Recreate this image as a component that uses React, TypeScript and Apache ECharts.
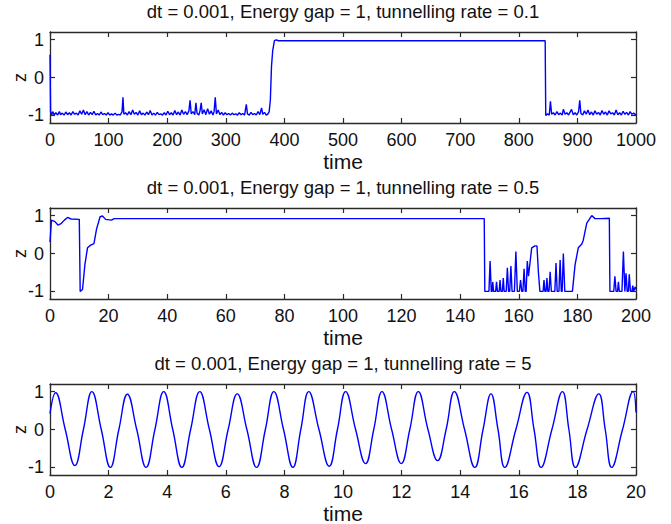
import React, { useEffect, useRef } from "react";
import * as echarts from "echarts";

// ---------- data ----------
const titles = [
  "dt = 0.001, Energy gap = 1, tunnelling rate = 0.1",
  "dt = 0.001, Energy gap = 1, tunnelling rate = 0.5",
  "dt = 0.001, Energy gap = 1, tunnelling rate = 5",
];
const xMax = [1000, 200, 20];
const xStep = [100, 20, 2];
const yTicks = [-1, 0, 1];

// panel 1: tunnelling rate 0.1  [time, z]
const series1: number[][] = [
  [0, 0.6], [1, -0.9], [3, -0.98], [5, -0.9], [7, -0.99], [10, -0.93], [13, -0.99], [16, -0.9], [18, -0.98],
  [21, -0.94], [24, -0.99], [27, -0.91], [30, -0.98], [33, -0.93], [36, -0.99], [39, -0.9], [42, -0.97],
  [45, -0.94], [48, -0.99], [51, -0.88], [54, -0.97], [57, -0.86], [60, -0.98], [63, -0.9], [66, -0.99],
  [69, -0.92], [72, -0.98], [75, -0.89], [78, -0.99], [81, -0.95], [84, -0.99], [87, -0.91], [90, -0.98],
  [93, -0.95], [96, -0.99], [99, -0.93], [102, -0.99], [105, -0.96], [108, -0.99], [111, -0.94], [114, -0.99],
  [117, -0.97], [120, -0.99], [123, -0.9], [124.5, -0.52], [126, -0.97], [129, -0.93], [132, -0.99], [135, -0.9],
  [138, -0.98], [141, -0.86], [144, -0.97], [147, -0.92], [150, -0.99], [153, -0.88], [156, -0.98], [159, -0.94],
  [162, -0.99], [165, -0.91], [168, -0.98], [171, -0.87], [174, -0.99], [177, -0.94], [180, -0.99], [183, -0.92],
  [186, -0.98], [189, -0.96], [192, -0.99], [195, -0.93], [198, -0.99], [201, -0.89], [204, -0.98], [207, -0.93],
  [210, -0.99], [213, -0.87], [216, -0.98], [219, -0.91], [222, -0.99], [225, -0.86], [228, -0.97], [231, -0.9],
  [234, -0.98], [237, -0.88], [239, -0.6], [241, -0.96], [244, -0.9], [247, -0.98], [249, -0.67], [251, -0.95],
  [254, -0.99], [256, -0.88], [258, -0.67], [260, -0.96], [263, -0.85], [266, -0.98], [269, -0.82], [272, -0.97],
  [275, -0.88], [278, -0.99], [280, -0.9], [282, -0.52], [284, -0.96], [287, -0.86], [290, -0.98], [293, -0.92],
  [296, -0.99], [299, -0.93], [302, -0.98], [305, -0.95], [308, -0.99], [311, -0.94], [314, -0.98], [317, -0.96],
  [320, -0.99], [323, -0.93], [326, -0.98], [329, -0.95], [332, -0.99], [335, -0.71], [337, -0.96], [340, -0.99],
  [343, -0.92], [346, -0.98], [349, -0.95], [352, -0.99], [355, -0.9], [358, -0.98], [361, -0.8], [363, -0.97],
  [366, -0.92], [369, -0.99], [372, -0.96], [374, -0.9], [376, -0.6], [378, 0.3], [380, 0.7], [383, 0.97],
  [386, 0.99], [390, 0.97], [845, 0.97], [846, -1.0], [849, -0.96], [852, -0.99], [854, -0.63], [856, -0.97],
  [859, -0.93], [862, -0.99], [865, -0.9], [868, -0.98], [871, -0.94], [874, -0.99], [876, -0.84], [879, -0.97],
  [882, -0.93], [885, -0.99], [888, -0.9], [890, -0.84], [893, -0.98], [896, -0.93], [899, -0.99], [902, -0.9],
  [904, -0.6], [906, -0.95], [909, -0.99], [912, -0.88], [915, -0.97], [918, -0.86], [921, -0.98], [924, -0.91],
  [927, -0.99], [930, -0.88], [933, -0.97], [936, -0.92], [939, -0.99], [942, -0.87], [945, -0.97], [948, -0.91],
  [951, -0.99], [954, -0.88], [957, -0.96], [960, -0.93], [963, -0.99], [966, -0.86], [969, -0.98], [972, -0.93],
  [975, -0.99], [978, -0.89], [981, -0.97], [984, -0.92], [987, -0.99], [990, -0.9], [993, -0.97], [996, -0.94],
  [999, -0.98], [1000, -0.96],
];

// panel 2: tunnelling rate 0.5
const series2: number[][] = [
  [0, 0.3], [0.5, 0.88], [1.7, 0.84], [2.7, 0.75], [3.8, 0.79], [4.9, 0.88], [6.0, 0.95], [7.2, 0.91],
  [10.0, 0.9], [10.3, -1.0], [11.1, -0.95], [11.9, -0.3], [12.8, 0.15], [13.9, 0.22], [15.0, 0.26],
  [15.9, 0.65], [17.1, 0.97], [17.9, 0.99], [19.0, 0.9], [21.0, 0.88], [21.9, 0.92], [148.2, 0.92],
  [148.4, -1.0], [149.8, -1.0], [150.2, -0.2], [150.6, -1.0], [150.9, -1.0], [151.1, -0.75], [151.4, -1.0],
  [152.1, -1.0], [152.4, -0.75], [152.7, -1.0], [153.3, -1.0], [153.6, -0.7], [153.9, -1.0], [154.4, -1.0],
  [154.7, -0.65], [155.0, -1.0], [155.7, -1.0], [156.1, -0.38], [156.5, -1.0], [156.9, -1.0], [157.3, -0.33],
  [157.7, -1.0], [158.5, -1.0], [159.0, 0.05], [159.5, -1.0], [160.2, -1.0], [160.6, -0.7], [161.0, -1.0],
  [161.4, -1.0], [161.8, -0.4], [162.2, -1.0], [162.5, -1.0], [162.9, -0.2], [163.3, -0.6], [164.4, 0.15],
  [165.5, 0.2], [166.2, 0.2], [166.7, -0.5], [167.2, -1.0], [168.3, -1.0], [168.6, -0.7], [168.9, -1.0],
  [169.3, -1.0], [169.6, -0.65], [169.9, -1.0], [170.3, -1.0], [170.7, -0.48], [171.1, -1.0], [172.3, -1.0],
  [172.7, -0.25], [173.1, -1.0], [173.7, -1.0], [174.1, -0.17], [174.5, -1.0], [174.8, -1.0], [175.2, 0.0],
  [175.7, -1.0], [178.3, -1.0], [179.2, -0.3], [180.3, 0.15], [181.5, 0.25], [182.0, 0.35], [183.2, 0.8],
  [184.9, 1.0], [186.0, 0.92], [188.0, 0.92], [190.9, 0.93], [191.1, -1.0], [192.4, -1.0], [192.8, -0.6],
  [193.2, -1.0], [193.7, -1.0], [194.0, -0.75], [194.3, -1.0], [195.2, -1.0], [195.7, 0.05], [196.2, -1.0],
  [196.3, -1.0], [196.6, -0.52], [197.0, -1.0], [197.4, -1.0], [197.7, -0.55], [198.1, -1.0], [198.6, -1.0],
  [198.9, -0.85], [199.2, -1.0], [199.7, -0.88], [200, -0.95],
];

// panel 3: tunnelling rate 5 (peaks, zero crossings, troughs)
const series3: number[][] = [
  [0, 0.42], [0.19, 0.97], [0.52, 0], [0.85, -0.95], [1.14, 0], [1.43, 1.0], [1.75, 0], [2.06, -1.0],
  [2.35, 0], [2.64, 0.93], [2.96, 0], [3.28, -1.0], [3.58, 0], [3.88, 1.0], [4.19, 0], [4.5, -1.0],
  [4.8, 0], [5.11, 1.0], [5.44, 0], [5.77, -0.98], [6.08, 0], [6.39, 0.94], [6.72, 0], [7.05, -1.0],
  [7.35, 0], [7.64, 1.0], [7.97, 0], [8.29, -1.0], [8.56, 0], [8.83, 1.0], [9.18, 0], [9.53, -0.97],
  [9.81, 0], [10.09, 1.0], [10.43, 0], [10.77, -0.9], [11.05, 0], [11.33, 1.0], [11.66, 0], [11.99, -0.9],
  [12.28, 0], [12.57, 1.0], [12.9, 0], [13.23, -0.82], [13.52, 0], [13.8, 1.0], [14.15, 0], [14.5, -1.0],
  [14.78, 0], [15.05, 0.94], [15.29, 0], [15.52, -1.0], [15.9, 0], [16.28, 0.98], [16.52, 0], [16.76, -1.0],
  [17.13, 0], [17.49, 1.0], [17.71, 0], [17.93, -1.0], [18.33, 0], [18.73, 0.94], [18.95, 0], [19.17, -1.0],
  [19.54, 0], [19.9, 1.0], [20, 0.45],
];

const allSeries = [series1, series2, series3];
const smoothFlags = [false, false, true];

// ---------- layout ----------
const FONT = "Liberation Sans, Arial, sans-serif";
const gridTops = [32, 208, 384];
const gridH = 91;
const gridLeft = 50;
const gridW = 586;
const titleFont = 18.5;
const titleCenters = [12, 188, 364];

export default function App() {
  const ref = useRef<HTMLDivElement>(null);
  useEffect(() => {
    if (!ref.current) return;
    const chart = echarts.init(ref.current, undefined, { renderer: "svg" });
    const axisLine = { show: true, onZero: false, lineStyle: { color: "#2a2a2a", width: 1.3 } };
    const tick = (extra: any = {}) => ({
      show: true, inside: true, length: 5, lineStyle: { color: "#2a2a2a", width: 1.2 }, ...extra,
    });
    const grids: any[] = [];
    const xAxes: any[] = [];
    const yAxes: any[] = [];
    const series: any[] = [];
    const title: any[] = [];
    for (let i = 0; i < 3; i++) {
      grids.push({
        left: gridLeft, top: gridTops[i], width: gridW, height: gridH,
        containLabel: false, outerBoundsMode: "none",
      });
      title.push({
        text: titles[i],
        left: gridLeft + gridW / 2,
        top: titleCenters[i] - titleFont / 2 - 1,
        padding: 0,
        textAlign: "center",
        textStyle: { fontFamily: FONT, fontSize: titleFont, fontWeight: "normal", color: "#111" },
      });
      xAxes.push({
        gridIndex: i, type: "value", min: 0, max: xMax[i], interval: xStep[i], position: "bottom",
        axisLine, axisTick: tick(), splitLine: { show: false },
        axisLabel: {
          fontFamily: FONT, fontSize: 18, color: "#111", margin: 8,
          formatter: (v: number) => String(v),
        },
        name: "time", nameLocation: "middle", nameGap: 28, nameMoveOverlap: false,
        nameTextStyle: { fontFamily: FONT, fontSize: 21, color: "#111" },
      });
      xAxes.push({
        gridIndex: i, type: "value", min: 0, max: xMax[i], interval: xStep[i], position: "top",
        axisLine, axisTick: tick(), splitLine: { show: false }, axisLabel: { show: false },
      });
      yAxes.push({
        gridIndex: i, type: "value", min: -1.2, max: 1.2, position: "left",
        axisLine, axisTick: tick({ customValues: yTicks }),
        axisLabel: { fontFamily: FONT, fontSize: 18, color: "#111", margin: 6, customValues: yTicks },
        splitLine: { show: false },
        name: "z", nameLocation: "middle", nameGap: 30, nameRotate: 90, nameMoveOverlap: false,
        nameTextStyle: { fontFamily: FONT, fontSize: 18, color: "#111", verticalAlign: "middle" },
      });
      yAxes.push({
        gridIndex: i, type: "value", min: -1.2, max: 1.2, position: "right",
        axisLine, axisTick: tick({ customValues: yTicks }),
        axisLabel: { show: false }, splitLine: { show: false },
      });
      series.push({
        type: "line", xAxisIndex: i * 2, yAxisIndex: i * 2, data: allSeries[i],
        showSymbol: false, smooth: smoothFlags[i] ? 0.45 : false,
        lineStyle: { color: "#0000ff", width: 1.4 }, clip: true,
      });
    }
    chart.setOption({
      animation: false,
      backgroundColor: "#ffffff",
      title, grid: grids, xAxis: xAxes, yAxis: yAxes, series,
    });
    return () => chart.dispose();
  }, []);
  return (
    <div
      ref={ref}
      style={{ position: "absolute", left: 0, top: 0, width: 671, height: 524, background: "#fff" }}
    />
  );
}
